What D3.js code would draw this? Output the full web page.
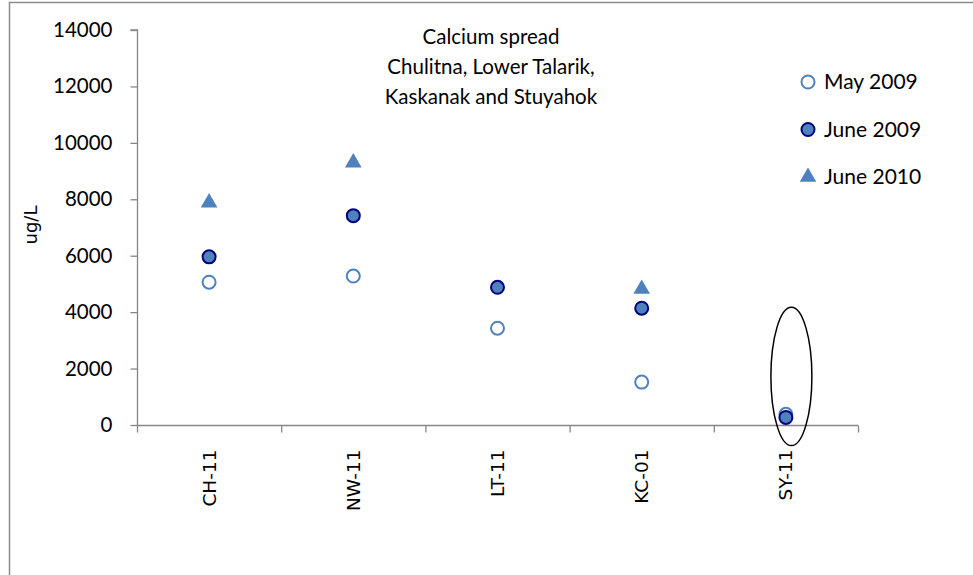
<!DOCTYPE html>
<html>
<head>
<meta charset="utf-8">
<script src="https://cdn.jsdelivr.net/npm/d3@7"></script>
<style>
  body { margin: 0; background: #fff; }
  svg { display: block; }
</style>
</head>
<body>
<div class="chart"></div>
<script>
// sites on the x axis, values in ug/L
const sites = ["CH-11", "NW-11", "LT-11", "KC-01", "SY-11"];
const may2009 = [5060, 5280, 3430, 1520, 380];
const june2009 = [5960, 7420, 4880, 4140, 270];
const june2010 = [7880, 9300, null, 4820, null];
const yTicks = [0, 2000, 4000, 6000, 8000, 10000, 12000, 14000];
const titleLines = ["Calcium spread", "Chulitna, Lower Talarik,", "Kaskanak and Stuyahok"];
const seriesNames = ["May 2009", "June 2009", "June 2010"];

const width = 973,
    height = 575,
    blue = "#4f81bd",
    navy = "#000080",
    axisGrey = "#868686",
    font = "Lato, 'Open Sans', sans-serif";

const svg = d3.select(".chart").append("svg")
    .attr("width", width)
    .attr("height", height);

svg.append("rect")
    .attr("width", width).attr("height", height)
    .attr("fill", "#fff");

// chart area border (runs off the right and bottom)
svg.append("rect")
    .attr("x", 9.5).attr("y", 2.5)
    .attr("width", 990).attr("height", 600)
    .attr("fill", "none")
    .attr("stroke", "#8c8c8c")
    .attr("stroke-width", 1.5);

const x = d3.scaleBand()
    .domain(sites)
    .range([137, 858]);

const y = d3.scaleLinear()
    .domain([0, 14000])
    .range([425, 30]);

// y axis
const yAxis = svg.append("g")
    .attr("transform", "translate(137.5,0)")
    .call(d3.axisLeft(y).tickValues(yTicks).tickSize(7).tickPadding(18).tickFormat(d3.format("d")));
yAxis.select(".domain").attr("stroke", axisGrey).attr("stroke-width", 1.3)
    .attr("d", `M-7,${y(14000)}H0V${y(0)}`);
yAxis.selectAll(".tick line").attr("stroke", axisGrey).attr("stroke-width", 1.3);
yAxis.selectAll(".tick text")
    .attr("font-family", font).attr("font-size", 20.5).attr("fill", "#000");

// x axis, ticks on the band edges
const edges = sites.map(s => x(s)).concat([x.range()[1]]);
const xAxis = svg.append("g").attr("transform", "translate(0,425.5)");
xAxis.append("path")
    .attr("d", `M${x.range()[0]},0H${x.range()[1]}`)
    .attr("stroke", axisGrey).attr("stroke-width", 1.3);
xAxis.selectAll("line.edge").data(edges).enter().append("line")
    .attr("class", "edge")
    .attr("x1", d => d + 0.5).attr("x2", d => d + 0.5)
    .attr("y1", 0).attr("y2", 7)
    .attr("stroke", axisGrey).attr("stroke-width", 1.3);
xAxis.selectAll("text").data(sites).enter().append("text")
    .attr("transform", d => `translate(${x(d) + x.bandwidth() / 2 + 6.5},24) rotate(-90)`)
    .attr("text-anchor", "end")
    .attr("font-family", "'DejaVu Sans', sans-serif")
    .attr("font-size", 18.5)
    .text(d => d);

// y label
svg.append("text")
    .attr("transform", "translate(37,225) rotate(-90)")
    .attr("text-anchor", "middle")
    .attr("font-family", "'DejaVu Sans', sans-serif")
    .attr("font-size", 18)
    .text("ug/L");

// title
svg.append("g").selectAll("text").data(titleLines).enter().append("text")
    .attr("x", 491)
    .attr("y", (d, i) => 44 + i * 30)
    .attr("text-anchor", "middle")
    .attr("font-family", font)
    .attr("font-size", 20.5)
    .text(d => d);

const cx = i => x(sites[i]) + x.bandwidth() / 2;
const tri = d3.symbol().type(d3.symbolTriangle).size(120);

// May 2009: open circles
svg.append("g").selectAll("circle")
    .data(may2009.map((v, i) => ({v, i})).filter(d => d.v != null))
    .enter().append("circle")
    .attr("cx", d => cx(d.i)).attr("cy", d => y(d.v))
    .attr("r", 6.5)
    .attr("fill", "#fff").attr("stroke", blue).attr("stroke-width", 2);

// June 2009: filled circles
svg.append("g").selectAll("circle")
    .data(june2009.map((v, i) => ({v, i})).filter(d => d.v != null))
    .enter().append("circle")
    .attr("cx", d => cx(d.i)).attr("cy", d => y(d.v))
    .attr("r", 6.5)
    .attr("fill", blue).attr("stroke", navy).attr("stroke-width", 2);

// June 2010: triangles
svg.append("g").selectAll("path")
    .data(june2010.map((v, i) => ({v, i})).filter(d => d.v != null))
    .enter().append("path")
    .attr("transform", d => `translate(${cx(d.i)},${y(d.v)})`)
    .attr("d", tri)
    .attr("fill", blue);

// ellipse highlighting SY-11
svg.append("ellipse")
    .attr("cx", cx(4) + 5.5)
    .attr("cy", y(1720))
    .attr("rx", 20.5)
    .attr("ry", y(0) - y(2450))
    .attr("fill", "none")
    .attr("stroke", "#000")
    .attr("stroke-width", 1.5);

// legend
const legend = svg.append("g").attr("transform", "translate(808,0)");
const rows = legend.selectAll("g").data(seriesNames).enter().append("g")
    .attr("transform", (d, i) => `translate(0,${82 + i * 47.5})`);
rows.append("text")
    .attr("x", 16).attr("dy", "0.35em")
    .attr("font-family", font).attr("font-size", 21)
    .text(d => d);
legend.select("g:nth-child(1)").append("circle")
    .attr("r", 6.5).attr("fill", "#fff").attr("stroke", blue).attr("stroke-width", 2);
legend.select("g:nth-child(2)").append("circle")
    .attr("r", 6.5).attr("fill", blue).attr("stroke", navy).attr("stroke-width", 2);
legend.select("g:nth-child(3)").append("path")
    .attr("d", tri).attr("fill", blue);
</script>
</body>
</html>
